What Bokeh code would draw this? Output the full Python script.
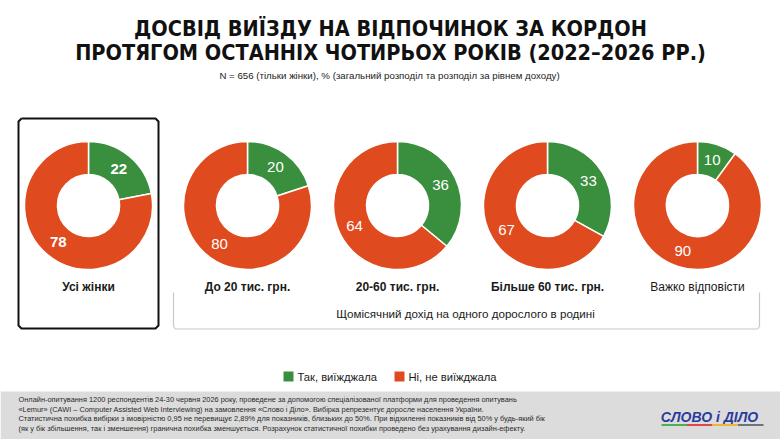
import math
from bokeh.plotting import figure
from bokeh.models import Range1d, ColumnDataSource
from bokeh.core.properties import value
from bokeh.embed import file_html
from bokeh.resources import INLINE

# ---- survey data -------------------------------------------------------
groups = ["Усі жінки", "До 20 тис. грн.", "20-60 тис. грн.", "Більше 60 тис. грн.", "Важко відповісти"]
yes_vals = [22, 20, 36, 33, 10]   # Так, виїжджала
no_vals = [78, 80, 64, 67, 90]    # Ні, не виїжджала
series_names = ["Так, виїжджала", "Ні, не виїжджала"]

title_lines = ["ДОСВІД ВИЇЗДУ НА ВІДПОЧИНОК ЗА КОРДОН",
               "ПРОТЯГОМ ОСТАННІХ ЧОТИРЬОХ РОКІВ (2022–2026 РР.)"]
subtitle = "N = 656 (тільки жінки), % (загальний розподіл та розподіл за рівнем доходу)"
income_caption = "Щомісячний дохід на одного дорослого в родині"
footer_lines = [
    "Онлайн-опитування 1200 респондентів 24-30 червня 2026 року, проведене за допомогою спеціалізованої платформи для проведення опитувань",
    "«Lemur» (CAWI – Computer Assisted Web Interviewing) на замовлення «Слово і Діло». Вибірка репрезентує доросле населення України.",
    "Статистична похибка вибірки з імовірністю 0,95 не перевищує 2,89% для показників, близьких до 50%. При відхиленні показників від 50% у будь-який бік",
    "(як у бік збільшення, так і зменшення) гранична похибка зменшується. Розрахунок статистичної похибки проведено без урахування дизайн-ефекту.",
]
logo_text = "СЛОВО і ДІЛО"

# ---- layout -------------------------------------------------------------
W, H = 780, 439
GREEN = "#3A8F3E"
RED = "#DF4B1F"
centers_x = [88, 247, 397, 547, 697]
CY = 205
R_OUT, R_IN = 64, 31

def Y(y):
    # top-down pixel position -> data y
    return H - y

SANS = "Liberation Sans"
NARROW = "DejaVu Sans Condensed"

p = figure(width=W, height=H, x_range=Range1d(0, W), y_range=Range1d(0, H),
           output_backend="svg", toolbar_location=None, min_border=0,
           background_fill_color="white", border_fill_color="white")
p.axis.visible = False
p.grid.visible = False
p.outline_line_color = None

# ---- titles --------------------------------------------------------------
p.text(x=[W / 2, W / 2], y=[Y(28), Y(51.5)], text=title_lines,
       text_font=value(NARROW), text_font_size=value("21.5px"), text_font_style="bold",
       text_color="#111111", text_align="center", text_baseline="middle")
p.text(x=[W / 2 - 1], y=[Y(75)], text=[subtitle],
       text_font=value(SANS), text_font_size=value("9.7px"),
       text_color="#222222", text_align="center", text_baseline="middle")

# ---- frames --------------------------------------------------------------
# highlighted frame around the total column (rounded corners)
bx0, bx1, by0, by1, rr = 18, 158, 118, 328, 3
frame_x = [bx0 + rr, bx1 - rr, bx1, bx1, bx1 - rr, bx0 + rr, bx0, bx0, bx0 + rr]
frame_y = [by0, by0, by0 + rr, by1 - rr, by1, by1, by1 - rr, by0 + rr, by0]
p.line(x=frame_x, y=[Y(v) for v in frame_y], line_color="#111111", line_width=2,
       line_join="round")
# light bracket under the income groups
p.line(x=[173, 173, 175, 757, 759, 759], y=[Y(292), Y(326), Y(328.5), Y(328.5), Y(326), Y(292)],
       line_color="#c8c8c8", line_width=1.2)

# ---- donuts --------------------------------------------------------------
yes_start, yes_end, no_start, no_end = [], [], [], []
for yv, nv in zip(yes_vals, no_vals):
    tot = yv + nv
    a0 = math.pi / 2
    a1 = a0 - 2 * math.pi * yv / tot
    a2 = a0 - 2 * math.pi
    yes_start.append(a0); yes_end.append(a1)
    no_start.append(a1); no_end.append(a2)

cys = [Y(CY)] * len(groups)
p.annular_wedge(x=centers_x, y=cys, inner_radius=R_IN, outer_radius=R_OUT,
                start_angle=yes_start, end_angle=yes_end, direction="clock",
                fill_color=GREEN, line_color="white", line_width=1.5)
p.annular_wedge(x=centers_x, y=cys, inner_radius=R_IN, outer_radius=R_OUT,
                start_angle=no_start, end_angle=no_end, direction="clock",
                fill_color=RED, line_color="white", line_width=1.5)

# slice value labels on each slice's bisector, mid-ring
r_lab = (R_IN + R_OUT) / 2
lx, ly, ltxt, lbold = [], [], [], []
for i, (yv, nv) in enumerate(zip(yes_vals, no_vals)):
    for a_s, a_e, v in ((yes_start[i], yes_end[i], yv), (no_start[i], no_end[i], nv)):
        mid = (a_s + a_e) / 2
        lx.append(centers_x[i] + r_lab * math.cos(mid))
        ly.append(cys[i] + r_lab * math.sin(mid))
        ltxt.append(str(v))
        lbold.append("bold" if i == 0 else "normal")
p.text(x="x", y="y", text="t", text_font_style="s",
       source=ColumnDataSource(dict(x=lx, y=ly, t=ltxt, s=lbold)),
       text_font=value(SANS), text_font_size=value("15px"),
       text_color="white", text_align="center", text_baseline="middle")

# group captions under the donuts
styles = ["bold", "bold", "bold", "bold", "normal"]
p.text(x="x", y="y", text="t", text_font_style="s",
       source=ColumnDataSource(dict(x=centers_x, y=[Y(286)] * len(groups), t=groups, s=styles)),
       text_font=value(SANS), text_font_size=value("12px"),
       text_color="#1a1a1a", text_align="center", text_baseline="middle")
p.text(x=[465], y=[Y(313)], text=[income_caption],
       text_font=value(SANS), text_font_size=value("11.6px"),
       text_color="#1a1a1a", text_align="center", text_baseline="middle")

# ---- legend --------------------------------------------------------------
leg_x = [288, 399]
p.scatter(x=leg_x, y=[Y(376)] * 2, marker="square", size=10,
          fill_color=[GREEN, RED], line_color=None)
p.text(x=[x + 9 for x in leg_x], y=[Y(376)] * 2, text=series_names,
       text_font=value(SANS), text_font_size=value("11.2px"),
       text_color="#1a1a1a", text_align="left", text_baseline="middle")

# ---- footer --------------------------------------------------------------
p.quad(left=[0], right=[W], top=[Y(391)], bottom=[0],
       fill_color="#dcdcdc", line_color=None)
p.text(x=[18] * 4, y=[Y(399 + 9.7 * k) for k in range(4)], text=footer_lines,
       text_font=value(SANS), text_font_size=value("7.4px"),
       text_color="#2a2a2a", text_align="left", text_baseline="middle")

p.text(x=[709], y=[Y(416)], text=[logo_text],
       text_font=value(SANS), text_font_size=value("14px"), text_font_style="bold italic",
       text_color="#2B3C9E", text_align="center", text_baseline="middle")
bar_cols = ["#4CAF50", "#E04848", "#F2B632", "#6B7280"]
seg = 25.5
p.segment(x0=[661 + seg * k for k in range(4)], y0=[Y(424.5)] * 4,
          x1=[661 + seg * (k + 1) for k in range(4)], y1=[Y(424.5)] * 4,
          line_color=bar_cols, line_width=2)

open("out.html", "w").write(file_html(p, INLINE))
